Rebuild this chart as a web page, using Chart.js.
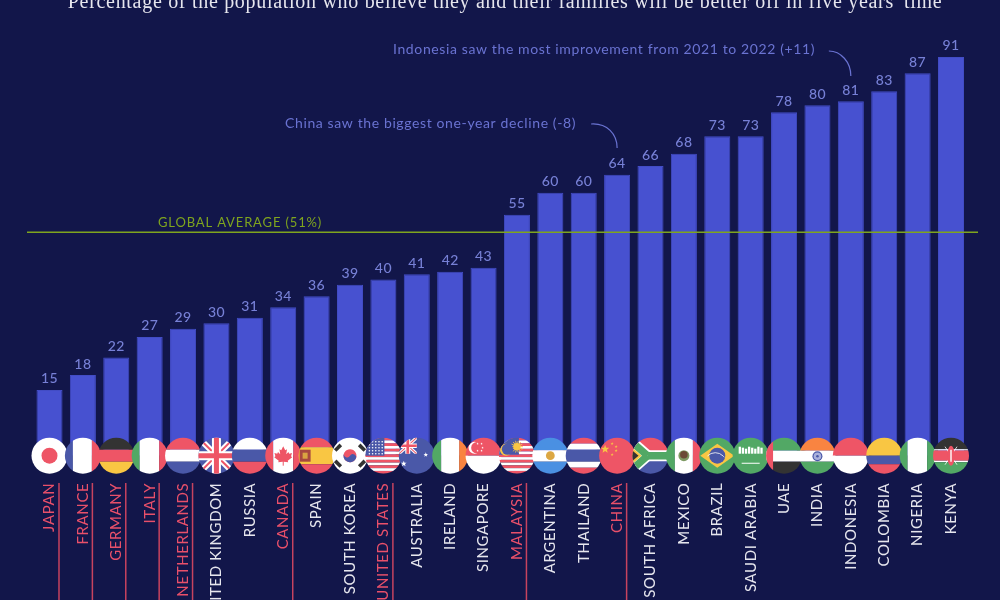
<!DOCTYPE html>
<html>
<head>
<meta charset="utf-8">
<style>
  html, body { margin: 0; padding: 0; background: #12164a; overflow: hidden; }
  canvas { display: block; }
</style>
<script src="https://cdn.jsdelivr.net/npm/chart.js@4"></script>
</head>
<body>
<canvas id="chart" width="1000" height="600"></canvas>
<script>
const countries = ['JAPAN', 'FRANCE', 'GERMANY', 'ITALY', 'NETHERLANDS', 'UNITED KINGDOM', 'RUSSIA', 'CANADA', 'SPAIN', 'SOUTH KOREA', 'UNITED STATES', 'AUSTRALIA', 'IRELAND', 'SINGAPORE', 'MALAYSIA', 'ARGENTINA', 'THAILAND', 'CHINA', 'SOUTH AFRICA', 'MEXICO', 'BRAZIL', 'SAUDI ARABIA', 'UAE', 'INDIA', 'INDONESIA', 'COLOMBIA', 'NIGERIA', 'KENYA'];
// printed numbers
const valueLabels = [15, 18, 22, 27, 29, 30, 31, 34, 36, 39, 40, 41, 42, 43, 55, 60, 60, 64, 66, 68, 73, 73, 78, 80, 81, 83, 87, 91];
const values = [15, 18.4, 22.4, 27.1, 29, 30.2, 31.5, 33.9, 36.4, 39, 40.2, 41.4, 42, 42.9, 55, 60, 60, 64.1, 66.1, 68.9, 72.9, 72.9, 78.4, 80, 80.9, 83.2, 87.3, 91];
const highlighted = ['JAPAN', 'FRANCE', 'GERMANY', 'ITALY', 'NETHERLANDS', 'CANADA', 'UNITED STATES', 'MALAYSIA', 'CHINA'];
const globalAverage = 51;
const subtitle = "Percentage of the population who believe they and their families will be better off in five years' time";
const averageLabel = 'GLOBAL AVERAGE (51%)';
const noteChina = 'China saw the biggest one-year decline (-8)';
const noteIndonesia = 'Indonesia saw the most improvement from 2021 to 2022 (+11)';

const RED = '#ee5566', WHITE = '#ffffff', BLUE = '#4a58a8', GREEN = '#52a865', YELLOW = '#f9c643', DARK = '#333333', ORANGE = '#f98441', SKY = '#4a90e2';

// flag helpers, everything is local to a clipped circle of radius 18
function h(c, rows) {
    rows.forEach(r => { c.fillStyle = r[0]; c.fillRect(-19, r[1], 38, r[2] - r[1]); });
}
function v(c, cols) {
    cols.forEach(r => { c.fillStyle = r[0]; c.fillRect(r[1], -19, r[2] - r[1], 38); });
}
function disc(c, x, y, r, col) {
    c.fillStyle = col;
    c.beginPath();
    c.arc(x, y, r, 0, Math.PI * 2);
    c.fill();
}
function star(c, x, y, r, col) {
    c.fillStyle = col;
    c.beginPath();
    for (let i = 0; i < 10; i++) {
        const a = -Math.PI / 2 + i * Math.PI / 5;
        const rr = i % 2 ? r * 0.42 : r;
        c.lineTo(x + Math.cos(a) * rr, y + Math.sin(a) * rr);
    }
    c.closePath();
    c.fill();
}
function seg(c, x1, y1, x2, y2, w, col) {
    c.strokeStyle = col;
    c.lineWidth = w;
    c.beginPath();
    c.moveTo(x1, y1);
    c.lineTo(x2, y2);
    c.stroke();
}
function union(c) {
    h(c, [[BLUE, -19, 19]]);
    seg(c, -18, -18, 18, 18, 6, WHITE);
    seg(c, -18, 18, 18, -18, 6, WHITE);
    seg(c, -18, -18, 18, 18, 2, RED);
    seg(c, -18, 18, 18, -18, 2, RED);
    seg(c, 0, -19, 0, 19, 9, WHITE);
    seg(c, -19, 0, 19, 0, 9, WHITE);
    seg(c, 0, -19, 0, 19, 5, RED);
    seg(c, -19, 0, 19, 0, 5, RED);
}
function stripes(c) {
    const rows = [];
    for (let i = 0; i < 13; i++) rows.push([i % 2 ? WHITE : RED, -18 + i * 2.77, -18 + (i + 1) * 2.77]);
    h(c, rows);
}

const flags = {
    'JAPAN': c => { h(c, [[WHITE, -19, 19]]); disc(c, 0, 0, 8, RED); },
    'FRANCE': c => v(c, [[BLUE, -19, -10], [WHITE, -10, 9], [RED, 9, 19]]),
    'GERMANY': c => h(c, [[DARK, -19, -6], [RED, -6, 6], [YELLOW, 6, 19]]),
    'ITALY': c => v(c, [[GREEN, -19, -10], [WHITE, -10, 9.5], [RED, 9.5, 19]]),
    'NETHERLANDS': c => h(c, [[RED, -19, -6], [WHITE, -6, 6], [BLUE, 6, 19]]),
    'UNITED KINGDOM': union,
    'RUSSIA': c => h(c, [[WHITE, -19, -6], [BLUE, -6, 6], [RED, 6, 19]]),
    'CANADA': c => {
        v(c, [[RED, -19, -10], [WHITE, -10, 10], [RED, 10, 19]]);
        const pts = [[0, -9.5], [2, -5.5], [3.8, -6.5], [3, -1.5], [5.2, -3.6], [6, -2], [8.8, -2.6], [7.8, 0.5], [9, 1.5], [4.5, 5], [5, 6.5], [0.6, 6]];
        c.fillStyle = RED;
        c.beginPath();
        pts.forEach(p => c.lineTo(p[0], p[1]));
        pts.slice().reverse().forEach(p => c.lineTo(-p[0], p[1]));
        c.closePath();
        c.fill();
        seg(c, 0, 5, 0, 10, 1, RED);
    },
    'SPAIN': c => {
        h(c, [[RED, -19, -8.5], [YELLOW, -8.5, 8.5], [RED, 8.5, 19]]);
        c.fillStyle = '#a8483f';
        c.fillRect(-17, -6, 11, 12);
        c.fillStyle = '#d9a441';
        c.fillRect(-14, -3, 5, 6);
    },
    'SOUTH KOREA': c => {
        h(c, [[WHITE, -19, 19]]);
        [[-12, -8, 1], [12, -8, -1], [-12, 8, -1], [12, 8, 1]].forEach(t => {
            c.save();
            c.translate(t[0], t[1]);
            c.rotate(t[2] * Math.PI / 4 + Math.PI / 2);
            c.fillStyle = DARK;
            c.fillRect(-4, -1.8, 8, 3.6);
            c.restore();
        });
        c.save();
        c.rotate(Math.PI / 6);
        disc(c, 0, 0, 6.5, RED);
        c.fillStyle = BLUE;
        c.beginPath();
        c.arc(0, 0, 6.5, 0, Math.PI);
        c.arc(-3.25, 0, 3.25, Math.PI, 0, true);
        c.arc(3.25, 0, 3.25, Math.PI, 0, false);
        c.fill();
        c.restore();
    },
    'UNITED STATES': c => {
        stripes(c);
        c.fillStyle = BLUE;
        c.fillRect(-19, -19, 20, 19);
        for (let i = 0; i < 5; i++) for (let j = 0; j < 5; j++) {
            disc(c, -14 + j * 3.2, -14 + i * 3, 0.8, WHITE);
        }
    },
    'AUSTRALIA': c => {
        h(c, [[BLUE, -19, 19]]);
        c.save();
        c.beginPath();
        c.rect(-19, -19, 19, 17);
        c.clip();
        c.translate(-9, -10);
        c.scale(0.55, 0.5);
        union(c);
        c.restore();
        star(c, 9, -1, 2.4, WHITE);
        star(c, -13, 8, 3, WHITE);
    },
    'IRELAND': c => v(c, [[GREEN, -19, -9], [WHITE, -9, 9], [ORANGE, 9, 19]]),
    'SINGAPORE': c => {
        h(c, [[RED, -19, 0], [WHITE, 0, 19]]);
        disc(c, -9, -8, 6, WHITE);
        disc(c, -6.8, -8, 5.6, RED);
        [[-6, -12], [-2, -12], [-1, -8], [-6, -5], [-2, -5]].forEach(p => star(c, p[0], p[1], 1.2, WHITE));
    },
    'MALAYSIA': c => {
        stripes(c);
        c.fillStyle = BLUE;
        c.fillRect(-19, -19, 21, 18);
        for (let i = 0; i < 14; i++) {
            const a = i * Math.PI / 7;
            seg(c, 0, -9, Math.cos(a) * 6, -9 + Math.sin(a) * 6, 0.9, YELLOW);
        }
        disc(c, 0, -9, 3.6, YELLOW);
        disc(c, -11, -6, 6, YELLOW);
        disc(c, -9.5, -6.5, 5.6, BLUE);
    },
    'ARGENTINA': c => {
        h(c, [[SKY, -19, -5.5], [WHITE, -5.5, 6], [SKY, 6, 19]]);
        disc(c, 0, 0, 4.4, '#dca743');
    },
    'THAILAND': c => h(c, [[RED, -19, -12], [WHITE, -12, -6], [BLUE, -6, 6], [WHITE, 6, 12], [RED, 12, 19]]),
    'CHINA': c => {
        h(c, [[RED, -19, 19]]);
        star(c, -12, -6.5, 4.4, YELLOW);
        [[-5, -12], [-1, -9], [-1, -5], [-5, -1]].forEach(p => star(c, p[0], p[1], 1.6, YELLOW));
    },
    'SOUTH AFRICA': c => {
        h(c, [[RED, -19, 0], [BLUE, 0, 19]]);
        const y = (w, col) => {
            seg(c, -20, -15, -3, 0, w, col);
            seg(c, -20, 15, -3, 0, w, col);
            seg(c, -3, 0, 19, 0, w, col);
        };
        y(11, WHITE);
        y(7.5, GREEN);
        c.fillStyle = YELLOW;
        c.beginPath();
        c.moveTo(-19, -9);
        c.lineTo(-9, 0);
        c.lineTo(-19, 9);
        c.fill();
        c.fillStyle = DARK;
        c.beginPath();
        c.moveTo(-19, -6);
        c.lineTo(-12, 0);
        c.lineTo(-19, 6);
        c.fill();
    },
    'MEXICO': c => {
        v(c, [[GREEN, -19, -9], [WHITE, -9, 9], [RED, 9, 19]]);
        disc(c, 0, 0, 5.5, '#7e9a63');
        disc(c, 0, -1, 3.8, '#6b4a36');
    },
    'BRAZIL': c => {
        h(c, [[GREEN, -19, 19]]);
        c.fillStyle = YELLOW;
        c.beginPath();
        c.moveTo(-17, 0);
        c.lineTo(0, -12);
        c.lineTo(17, 0);
        c.lineTo(0, 12);
        c.fill();
        disc(c, 0, 0, 8, BLUE);
        c.strokeStyle = WHITE;
        c.lineWidth = 0.8;
        c.beginPath();
        c.arc(-2, 8, 11, -Math.PI * 0.75, -Math.PI * 0.2);
        c.stroke();
    },
    'SAUDI ARABIA': c => {
        h(c, [[GREEN, -19, 19]]);
        c.fillStyle = WHITE;
        for (let i = 0; i < 8; i++) c.fillRect(-12 + i * 3.1, -9 + (i % 3), 2.3, 7 - (i % 3));
        seg(c, -9, 7.5, 9, 7.5, 1.1, WHITE);
    },
    'UAE': c => {
        h(c, [[GREEN, -19, -5], [WHITE, -5, 6], [DARK, 6, 19]]);
        v(c, [[RED, -19, -11]]);
    },
    'INDIA': c => {
        h(c, [[ORANGE, -19, -5], [WHITE, -5, 6], [GREEN, 6, 19]]);
        disc(c, 0, 0.5, 5, BLUE);
        disc(c, 0, 0.5, 3.8, '#aab2dc');
        disc(c, 0, 0.5, 1.3, BLUE);
    },
    'INDONESIA': c => h(c, [[RED, -19, 0], [WHITE, 0, 19]]),
    'COLOMBIA': c => h(c, [[YELLOW, -19, 0], [BLUE, 0, 8.5], [RED, 8.5, 19]]),
    'NIGERIA': c => v(c, [[GREEN, -19, -10], [WHITE, -10, 9.5], [GREEN, 9.5, 19]]),
    'KENYA': c => {
        h(c, [[DARK, -19, -6.5], [WHITE, -6.5, -5.2], [RED, -5.2, 5], [WHITE, 5, 6.5], [GREEN, 6.5, 19]]);
        seg(c, -6, -9, 6, 9, 0.8, WHITE);
        seg(c, 6, -9, -6, 9, 0.8, WHITE);
        c.fillStyle = RED;
        c.beginPath();
        c.ellipse(0, 0, 3.8, 10, 0, 0, Math.PI * 2);
        c.fill();
        seg(c, 0, -6, 0, 6, 1.4, WHITE);
    }
};

const extras = {
    id: 'extras',
    beforeDraw(chart) {
        chart.ctx.letterSpacing = '0.6px';
    },
    afterDatasetsDraw(chart) {
        const c = chart.ctx;
        const x = chart.scales.x;
        const y = chart.scales.y;
        const base = y.getPixelForValue(0);

        // value labels
        c.save();
        c.letterSpacing = '0.4px';
        c.fillStyle = '#7780d6';
        c.font = '500 14px Lato';
        c.textAlign = 'center';
        c.textBaseline = 'alphabetic';
        values.forEach((val, i) => {
            c.fillText(valueLabels[i], x.getPixelForTick(i), y.getPixelForValue(val) - 6.5);
        });
        c.restore();

        // global average
        const avg = y.getPixelForValue(globalAverage);
        c.save();
        c.strokeStyle = '#7fa51e';
        c.lineWidth = 1.5;
        c.beginPath();
        c.moveTo(27, avg);
        c.lineTo(978, avg);
        c.stroke();
        c.letterSpacing = '0.85px';
        c.fillStyle = '#7fa51e';
        c.font = '13px Lato';
        c.textAlign = 'left';
        c.fillText(averageLabel, 158, avg - 5);
        c.restore();

        // highlight rules next to the names
        c.save();
        c.strokeStyle = '#c7435f';
        c.lineWidth = 1.5;
        highlighted.forEach(name => {
            const px = x.getPixelForTick(countries.indexOf(name)) + 9.5;
            c.beginPath();
            c.moveTo(px, 483);
            c.lineTo(px, 600);
            c.stroke();
        });
        c.restore();

        // flags
        countries.forEach((name, i) => {
            c.save();
            c.translate(x.getPixelForTick(i), base);
            c.beginPath();
            c.arc(0, 0, 18, 0, Math.PI * 2);
            c.clip();
            flags[name](c);
            c.restore();
        });

        // notes
        c.save();
        c.fillStyle = '#6a73d2';
        c.font = '14px Lato';
        c.letterSpacing = '0.62px';
        c.textAlign = 'left';
        c.textBaseline = 'alphabetic';
        c.fillText(noteIndonesia, 393, 54);
        c.fillText(noteChina, 285, 128);
        c.strokeStyle = '#6a73d2';
        c.lineWidth = 1.2;
        const chinaX = x.getPixelForTick(countries.indexOf('CHINA'));
        const indoX = x.getPixelForTick(countries.indexOf('INDONESIA'));
        c.beginPath();
        c.moveTo(chinaX - 26, 124);
        c.bezierCurveTo(chinaX - 10, 123, chinaX, 134, chinaX, 148);
        c.stroke();
        c.beginPath();
        c.moveTo(indoX - 22, 51);
        c.bezierCurveTo(indoX - 10, 51, indoX, 62, indoX, 76);
        c.stroke();
        c.restore();

        // subtitle, cut by the top of the picture
        c.save();
        c.fillStyle = '#e6e6ee';
        c.font = '20px "Liberation Serif"';
        c.letterSpacing = '0.7px';
        c.textAlign = 'center';
        c.fillText(subtitle, 505, 8);
        c.restore();
    }
};

new Chart(document.getElementById('chart').getContext('2d'), {
    type: 'bar',
    data: {
        labels: countries,
        datasets: [{
            data: values,
            backgroundColor: '#4751d0',
            borderColor: '#424cc4',
            borderWidth: 1,
            categoryPercentage: 1,
            barPercentage: 0.78
        }]
    },
    options: {
        responsive: false,
        animation: false,
        layout: { padding: { left: 32.8, right: 32.3, top: 0, bottom: 0 } },
        plugins: { legend: { display: false }, title: { display: false }, tooltip: { enabled: false } },
        scales: {
            x: {
                grid: { display: false, drawTicks: false },
                border: { display: false },
                afterFit: s => { s.height = 144.3; },
                ticks: {
                    autoSkip: false,
                    minRotation: 90,
                    maxRotation: 90,
                    padding: 27,
                    font: { family: 'Lato', size: 15 },
                    color: ctx => highlighted.includes(countries[ctx.index]) ? '#e9506a' : '#e6e6ee'
                }
            },
            y: { display: false, min: 0, max: 104 }
        }
    },
    plugins: [extras]
});
</script>
</body>
</html>
